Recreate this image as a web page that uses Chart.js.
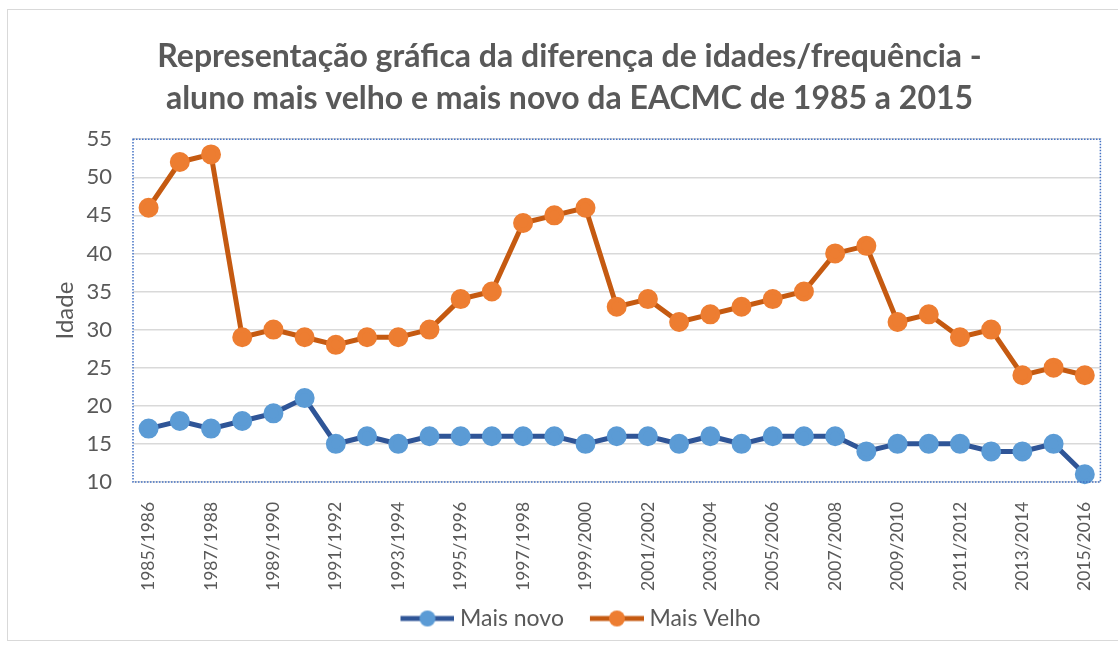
<!DOCTYPE html>
<html>
<head>
<meta charset="utf-8">
<script src="https://cdn.jsdelivr.net/npm/chart.js@4.4.1/dist/chart.umd.min.js"></script>
<style>
  html, body { margin: 0; padding: 0; background: #fff; }
  #wrap { position: absolute; left: 0; top: 0; width: 1118px; height: 649px; }
  #frame { position: absolute; left: 7px; top: 9px; width: 1120px; height: 632px; border: 1px solid #d9d9d9; box-sizing: border-box; }
</style>
</head>
<body>
<div id="wrap">
  <div id="frame"></div>
  <canvas id="chart" width="1118" height="649"></canvas>
</div>
<script>
const years = [];
for (let y = 1985; y <= 2015; y++) years.push(y + "/" + (y + 1));

const maisNovo = [17, 18, 17, 18, 19, 21, 15, 16, 15, 16, 16, 16, 16, 16, 15, 16,
  16, 15, 16, 15, 16, 16, 16, 14, 15, 15, 15, 14, 14, 15, 11];
const maisVelho = [46, 52, 53, 29, 30, 29, 28, 29, 29, 30, 34, 35, 44, 45, 46, 33,
  34, 31, 32, 33, 34, 35, 40, 41, 31, 32, 29, 30, 24, 25, 24];

const titleLines = [
  "Representação gráfica da diferença de idades/frequência -",
  "aluno mais velho e mais novo da EACMC de 1985 a 2015"
];

const FONT = "Lato, 'Open Sans', sans-serif";
const TEXT = "#595959";

// legend marker: line with a dot; blank space on the left acts as the item gap,
// and the image is a bit wider than pointStyleWidth so the text sits close
function legendIcon(lineColor, dotColor) {
  const c = document.createElement("canvas");
  c.width = 82;
  c.height = 18;
  const ctx = c.getContext("2d");
  ctx.strokeStyle = lineColor;
  ctx.lineWidth = 5;
  ctx.beginPath();
  ctx.moveTo(28, 9);
  ctx.lineTo(82, 9);
  ctx.stroke();
  ctx.fillStyle = dotColor;
  ctx.beginPath();
  ctx.arc(55, 9, 8, 0, Math.PI * 2);
  ctx.fill();
  return c;
}

const plotBorder = {
  id: "plotBorder",
  afterDraw(chart) {
    const { ctx, chartArea } = chart;
    ctx.save();
    ctx.strokeStyle = "#4472c4";
    ctx.lineWidth = 1.5;
    ctx.setLineDash([1.5, 1.5]);
    ctx.strokeRect(chartArea.left, chartArea.top, chartArea.right - chartArea.left, chartArea.bottom - chartArea.top);
    ctx.restore();
  }
};

const iconNovo = legendIcon("#2f5597", "#5b9bd5");
const iconVelho = legendIcon("#c55a11", "#ed7d31");

new Chart(document.getElementById("chart"), {
  type: "line",
  data: {
    labels: years,
    datasets: [
      {
        label: "Mais novo",
        data: maisNovo,
        borderColor: "#2f5597",
        backgroundColor: "#5b9bd5",
        pointBackgroundColor: "#5b9bd5",
        pointBorderColor: "#5b9bd5",
        pointRadius: 7.5,
        pointHoverRadius: 7.5,
        borderWidth: 5,
        pointStyle: "circle",
        tension: 0,
        clip: false
      },
      {
        label: "Mais Velho",
        data: maisVelho,
        borderColor: "#c55a11",
        backgroundColor: "#ed7d31",
        pointBackgroundColor: "#ed7d31",
        pointBorderColor: "#ed7d31",
        pointRadius: 7.5,
        pointHoverRadius: 7.5,
        borderWidth: 5,
        pointStyle: "circle",
        tension: 0,
        clip: false
      }
    ]
  },
  options: {
    responsive: false,
    animation: false,
    layout: { padding: { left: 33, right: 12, top: 14, bottom: 9 } },
    plugins: {
      tooltip: { enabled: false },
      title: {
        display: true,
        text: titleLines,
        color: TEXT,
        font: { family: FONT, size: 32, weight: "bold", lineHeight: 1.3 },
        padding: { top: 22, bottom: 20 }
      },
      legend: {
        position: "bottom",
        labels: {
          usePointStyle: true,
          pointStyleWidth: 70,
          boxHeight: 18,
          color: TEXT,
          font: { family: FONT, size: 23 },
          padding: 4,
          generateLabels(chart) {
            return chart.data.datasets.map((ds, i) => ({
              text: ds.label,
              fontColor: TEXT,
              pointStyle: i === 0 ? iconNovo : iconVelho,
              datasetIndex: i,
              hidden: false,
              lineWidth: 0
            }));
          }
        }
      }
    },
    scales: {
      x: {
        offset: true,
        grid: { display: false },
        border: { display: false },
        ticks: {
          autoSkip: false,
          maxRotation: 90,
          minRotation: 90,
          color: TEXT,
          padding: 12,
          font: { family: FONT, size: 17.5 },
          callback(value, index) {
            return index % 2 === 0 ? this.getLabelForValue(value) : "";
          }
        }
      },
      y: {
        min: 10,
        max: 55,
        afterFit(scale) {
          scale.width = 100;
        },
        ticks: {
          stepSize: 5,
          color: TEXT,
          padding: 21,
          font: { family: FONT, size: 22 }
        },
        grid: { color: "#d9d9d9", lineWidth: 1.5, drawTicks: false },
        border: { display: false },
        title: {
          display: true,
          text: "Idade",
          color: TEXT,
          font: { family: FONT, size: 24 },
          padding: { top: 18, bottom: 0 }
        }
      }
    }
  },
  plugins: [plotBorder]
});
</script>
</body>
</html>
